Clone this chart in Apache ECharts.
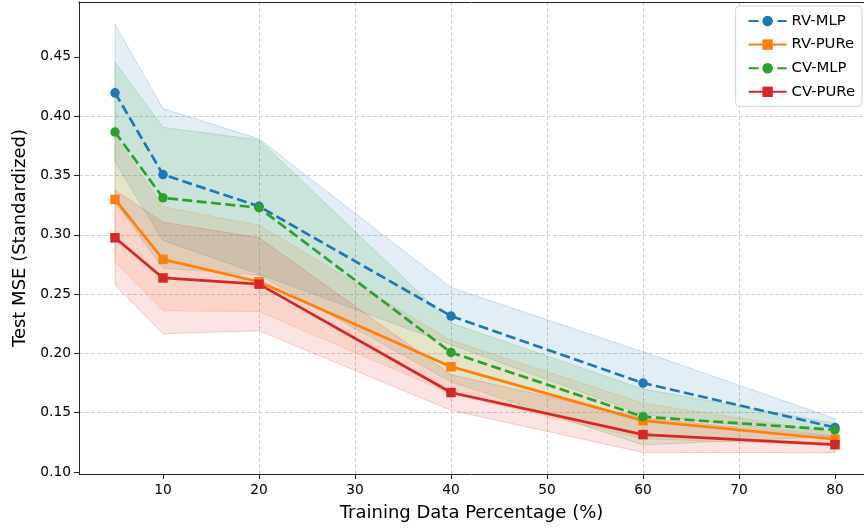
<!DOCTYPE html>
<html>
<head>
<meta charset="utf-8">
<script src="https://cdn.jsdelivr.net/npm/echarts@6/dist/echarts.min.js"></script>
<style>
html,body{margin:0;padding:0;background:#fff;}
#chart{width:864px;height:529px;}
</style>
</head>
<body>
<div id="chart"></div>
<script>
const xPct = [5, 10, 20, 40, 60, 80];
const xTicks = [10, 20, 30, 40, 50, 60, 70, 80];
const yTicks = [0.10, 0.15, 0.20, 0.25, 0.30, 0.35, 0.40, 0.45];

const seriesNames = ['RV-MLP', 'RV-PURe', 'CV-MLP', 'CV-PURe'];

const rvMlpMean = [0.4197, 0.3508, 0.324, 0.2315, 0.175, 0.1375];
const rvMlpLow  = [0.3616, 0.2952, 0.267, 0.2074, 0.1486, 0.130];
const rvMlpHigh = [0.4775, 0.4064, 0.381, 0.2556, 0.2014, 0.145];

const rvPureMean = [0.3298, 0.2793, 0.2604, 0.1888, 0.1433, 0.1276];
const rvPureLow  = [0.2770, 0.2359, 0.2353, 0.166, 0.128, 0.1225];
const rvPureHigh = [0.3826, 0.3237, 0.308, 0.211, 0.158, 0.133];

const cvMlpMean = [0.3866, 0.3312, 0.3228, 0.2008, 0.1466, 0.1355];
const cvMlpLow  = [0.3278, 0.2719, 0.266, 0.176, 0.1228, 0.130];
const cvMlpHigh = [0.4454, 0.3905, 0.380, 0.2255, 0.170, 0.141];

const cvPureMean = [0.2975, 0.2636, 0.2584, 0.167, 0.1315, 0.1230];
const cvPureLow  = [0.2576, 0.2166, 0.2190, 0.152, 0.1165, 0.1163];
const cvPureHigh = [0.3377, 0.3106, 0.2975, 0.182, 0.1456, 0.1297];

const FONT = 'DejaVu Sans';
const groups = [
  {name: seriesNames[0], mean: rvMlpMean, low: rvMlpLow, high: rvMlpHigh, rgb: [31, 119, 180], color: '#1f77b4', symbol: 'circle', dashed: true},
  {name: seriesNames[1], mean: rvPureMean, low: rvPureLow, high: rvPureHigh, rgb: [255, 127, 14], color: '#ff7f0e', symbol: 'rect', dashed: false},
  {name: seriesNames[2], mean: cvMlpMean, low: cvMlpLow, high: cvMlpHigh, rgb: [44, 160, 44], color: '#2ca02c', symbol: 'circle', dashed: true},
  {name: seriesNames[3], mean: cvPureMean, low: cvPureLow, high: cvPureHigh, rgb: [214, 39, 40], color: '#d62728', symbol: 'rect', dashed: false}
];

const series = [];
groups.forEach((g) => {
  const bandData = xPct.map((x, i) => [x, g.low[i], g.high[i]]);
  series.push({
    name: g.name + ' band',
    type: 'custom',
    silent: true,
    clip: true,
    data: bandData,
    encode: {x: 0, y: [1, 2]},
    renderItem: function (params, api) {
      if (params.dataIndex !== 0) return null;
      const top = bandData.map(d => api.coord([d[0], d[2]]));
      const bot = bandData.slice().reverse().map(d => api.coord([d[0], d[1]]));
      return {
        type: 'polygon',
        shape: {points: top.concat(bot)},
        style: {
          fill: 'rgba(' + g.rgb.join(',') + ',0.13)',
          stroke: 'rgba(' + g.rgb.join(',') + ',0.2)',
          lineWidth: 1
        }
      };
    },
    z: 2
  });
  series.push({
    name: g.name,
    type: 'line',
    data: xPct.map((x, i) => [x, g.mean[i]]),
    symbol: g.symbol,
    symbolSize: 9.5,
    showAllSymbol: true,
    itemStyle: {color: g.color},
    lineStyle: {color: g.color, width: 2.7, type: g.dashed ? [10, 4.4] : 'solid'},
    z: 2
  });
});

const chart = echarts.init(document.getElementById('chart'), null, {renderer: 'canvas'});
chart.setOption({
  animation: false,
  backgroundColor: '#ffffff',
  textStyle: {fontFamily: FONT},
  grid: {left: 79, top: 2, right: 0, bottom: 55, containLabel: false},
  legend: {
    data: seriesNames,
    orient: 'vertical',
    right: 2,
    top: 6,
    padding: [7.5, 7, 7, 12],
    itemWidth: 38,
    itemHeight: 13,
    itemGap: 8.6,
    backgroundColor: 'rgba(255,255,255,0.85)',
    borderColor: '#d3d3d3',
    borderWidth: 1,
    borderRadius: 4,
    textStyle: {fontFamily: FONT, fontSize: 14.8, color: '#000'}
  },
  xAxis: [{
    type: 'value',
    min: 1.25,
    max: 83.02,
    name: 'Training Data Percentage (%)',
    nameLocation: 'middle',
    nameGap: 30,
    nameTextStyle: {fontFamily: FONT, fontSize: 18, color: '#000'},
    axisLine: {show: true, onZero: false, lineStyle: {color: '#222', width: 1}},
    axisTick: {show: true, length: 5, lineStyle: {color: '#222'}, customValues: xTicks},
    axisLabel: {fontFamily: FONT, fontSize: 13.8, color: '#000', margin: 9, customValues: xTicks},
    splitLine: {show: true, showMinLine: false, showMaxLine: false, lineStyle: {color: '#d0d0d0', width: 1, type: [4, 2]}}
  }, {
    type: 'value',
    position: 'top',
    min: 1.25,
    max: 83.02,
    axisLine: {show: true, onZero: false, lineStyle: {color: '#222', width: 1}},
    axisTick: {show: false},
    axisLabel: {show: false},
    splitLine: {show: false}
  }],
  yAxis: {
    type: 'value',
    min: 0.0983,
    max: 0.4963,
    name: 'Test MSE (Standardized)',
    nameLocation: 'middle',
    nameGap: 49,
    nameTextStyle: {fontFamily: FONT, fontSize: 18, color: '#000'},
    axisLine: {show: true, onZero: false, lineStyle: {color: '#222', width: 1}},
    axisTick: {show: true, length: 5, lineStyle: {color: '#222'}, customValues: yTicks},
    axisLabel: {fontFamily: FONT, fontSize: 13.8, color: '#000', margin: 8, customValues: yTicks, formatter: v => v.toFixed(2)},
    splitLine: {show: true, showMinLine: false, showMaxLine: false, lineStyle: {color: '#d0d0d0', width: 1, type: [4, 2]}}
  },
  series: series
});
</script>
</body>
</html>
